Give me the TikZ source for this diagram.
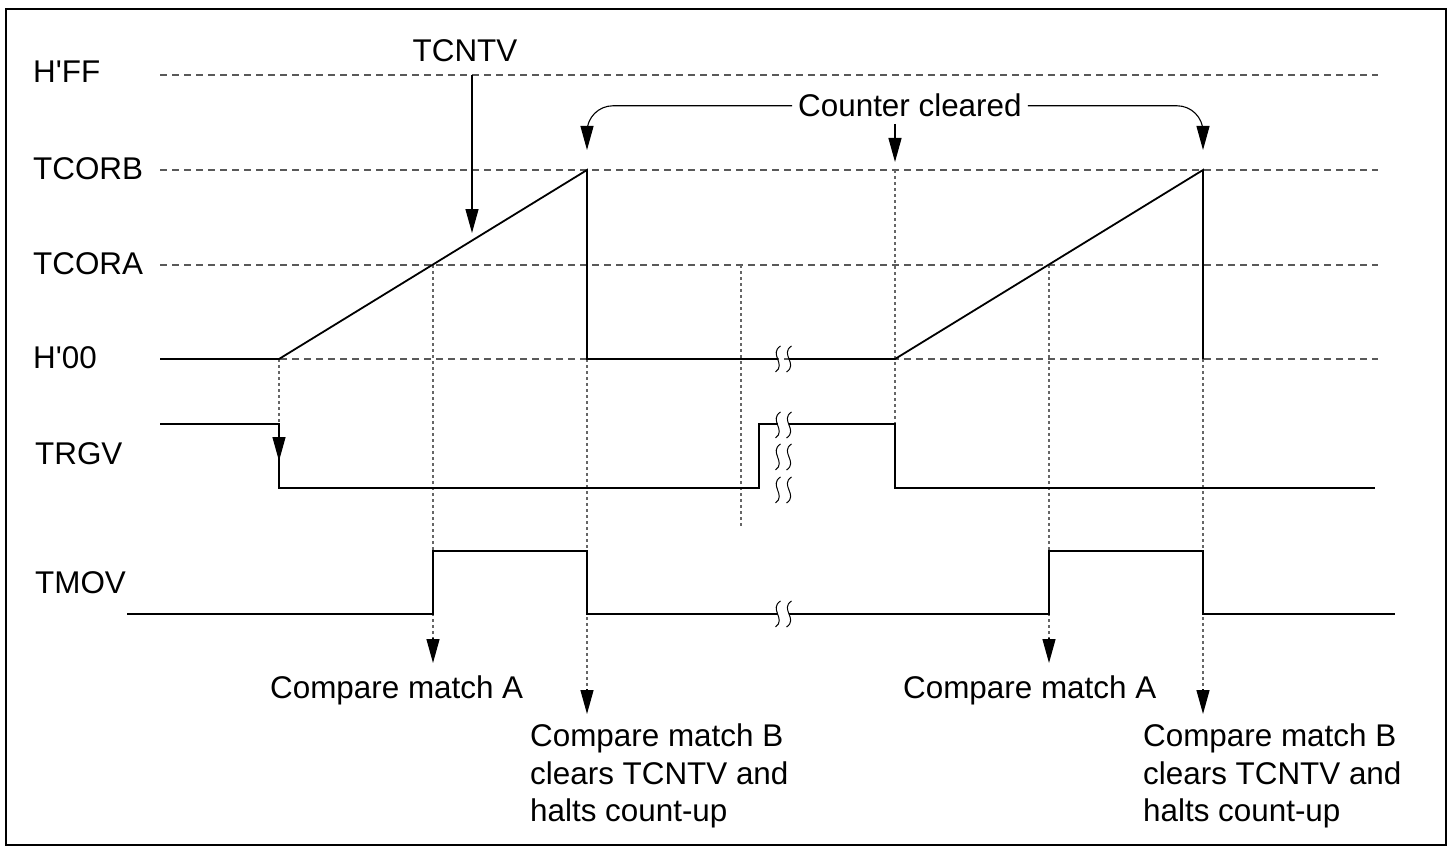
\documentclass[tikz,border=0pt]{standalone}
\usepackage{fontspec}
\setmainfont{Liberation Sans}
\usetikzlibrary{arrows.meta}
\begin{document}
\begin{tikzpicture}[x=1pt,y=-1pt,
  sig/.style={line width=1.8pt, line join=miter},
  lvl/.style={line width=1.1pt, black!65, dash pattern=on 7pt off 5pt},
  guide/.style={line width=1.1pt, black!60, dash pattern=on 3pt off 3pt},
  lbl/.style={inner sep=0pt, font=\fontsize{31.4}{37.5}\selectfont},
  tipA/.style={-{Triangle[length=24pt,width=13pt,black]}},
  arr/.style={line width=1.3pt, tipA},
  brkpair/.pic={
    \draw[line width=1pt] (-3,-13) .. controls (-15,-5) and (3,5) .. (-8,13);
    \draw[line width=1pt] (8,-13) .. controls (-4,-5) and (15,5) .. (3,13);
  }
]
\useasboundingbox (0,0) rectangle (1451,848);
\draw[line width=1.8pt] (6,9) rectangle (1446,845);

% level labels
\node[lbl,anchor=base west] (lFF) at (33,83) {H\textquotesingle FF};
\node[lbl,anchor=base west] (lB) at (33,179) {TCORB};
\node[lbl,anchor=base west] (lA) at (33,274) {TCORA};
\node[lbl,anchor=base west] (l0) at (33,368) {H\textquotesingle 00};
\node[lbl,anchor=base west] (lTRGV) at (35,464) {TRGV};
\node[lbl,anchor=base west] (lTMOV) at (35,593) {TMOV};

% dashed levels
\coordinate (ffL) at (160,75);  \coordinate (ffR) at (1378,75);
\coordinate (bL) at (160,170);  \coordinate (bR) at (1378,170);
\coordinate (aL) at (160,265);  \coordinate (aR) at (1378,265);
\coordinate (zL) at (160,359);  \coordinate (zR) at (1378,359);
\draw[lvl] (ffL) -- (ffR);
\draw[lvl] (bL) -- (bR);
\draw[lvl] (aL) -- (aR);
\draw[lvl] (zL) -- (zR);

% key points
\coordinate (r1s) at (279,359);
\coordinate (r1t) at (587,170);
\coordinate (r1b) at (587,359);
\coordinate (r2s) at (895,359);
\coordinate (r2t) at (1203,170);
\coordinate (r2b) at (1203,359);
\coordinate (mA1) at (433,265);
\coordinate (mA2) at (1049,265);

% guide lines
\draw[guide] (r1s) -- (279,424);
\draw[guide] (mA1) -- (433,640);
\draw[arr] (433,638) -- (433,663);
\draw[guide] (r1b) -- (587,691);
\draw[arr] (587,689) -- (587,714);
\draw[guide] (741,265) -- (741,527);
\draw[guide] (895,170) -- (895,424);
\draw[guide] (mA2) -- (1049,640);
\draw[arr] (1049,638) -- (1049,663);
\draw[guide] (r2b) -- (1203,691);
\draw[arr] (1203,689) -- (1203,714);

% TCNTV
\draw[sig] (zL) -- (r1s) -- (r1t) -- (r1b) -- (778,359);
\draw[sig] (789,359) -- (r2s) -- (r2t) -- (r2b);
\node[lbl,anchor=base] (tcntv) at (465,62) {TCNTV};
\draw[arr] (472,75) -- (472,233);

% TRGV
\draw[sig] (160,424) -- (279,424) -- (279,488) -- (759,488) -- (759,424) -- (778,424);
\draw[sig] (789,424) -- (895,424) -- (895,488) -- (1375,488);
\draw[arr] (279,424) -- (279,461);

% TMOV
\draw[sig] (127,614) -- (433,614) -- (433,551) -- (587,551) -- (587,614) -- (778,614);
\draw[sig] (789,614) -- (1049,614) -- (1049,551) -- (1203,551) -- (1203,614) -- (1395,614);

% break marks
\pic at (783.5,359) {brkpair};
\pic at (783.5,425) {brkpair};
\pic at (783.5,457) {brkpair};
\pic at (783.5,490) {brkpair};
\pic at (783.5,614) {brkpair};

% counter cleared
\node[lbl,anchor=base west] (cc) at (798,117) {Counter cleared};
\draw[line width=1.1pt, rounded corners=26pt, tipA] ([xshift=-6pt]cc.west) -| (587,150);
\draw[line width=1.1pt, rounded corners=26pt, tipA] ([xshift=6pt]cc.east) -| (1203,150);
\draw[arr] (895,124) -- (895,162);

% compare match labels
\node[lbl,anchor=base west] (cmA1) at (270,698) {Compare match A};
\node[lbl,anchor=base west] (cmA2) at (903,698) {Compare match A};
\node[lbl,anchor=north west,align=left] (cmB1) at (530,724) {Compare match B\\clears TCNTV and\\halts count-up};
\node[lbl,anchor=north west,align=left] (cmB2) at (1143,724) {Compare match B\\clears TCNTV and\\halts count-up};
\end{tikzpicture}
\end{document}
